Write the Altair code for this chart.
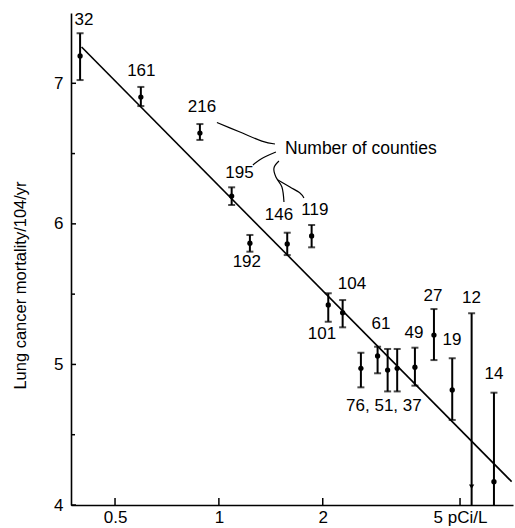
import altair as alt
import pandas as pd

# ---- data ----
counties = ["32", "161", "216", "195", "192", "146", "119", "101", "104",
            "76", "61", "51", "37", "49", "27", "19", "12", "14"]
radon = [0.396, 0.594, 0.881, 1.089, 1.23, 1.578, 1.857, 2.075, 2.284,
         2.58, 2.884, 3.084, 3.287, 3.70, 4.201, 4.746, 5.402, 6.27]
mortality = [7.194, 6.902, 6.646, 6.198, 5.862, 5.857, 5.914, 5.423, 5.368,
             4.972, 5.060, 4.960, 4.972, 4.980, 5.209, 4.818, 4.130, 4.166]
err_hi = [7.356, 6.974, 6.710, 6.260, 5.921, 5.937, 5.992, 5.506, 5.458,
          5.083, 5.126, 5.110, 5.110, 5.119, 5.394, 5.044, 5.364, 4.799]
err_lo = [7.023, 6.838, 6.597, 6.134, 5.802, 5.778, 5.833, 5.304, 5.264,
          4.837, 4.937, 4.808, 4.808, 4.849, 5.031, 4.605, 4.0, 4.0]
marker = ["circle"] * 16 + ["triangle-down", "circle"]

fit_x = [0.400, 7.056]
fit_y = [7.258, 4.166]

label_text = ["32", "161", "216", "195", "192", "146", "119", "104", "101",
              "61", "49", "27", "76, 51, 37", "19", "12", "14"]
label_x = [0.4063, 0.596, 0.893, 1.147, 1.205, 1.493, 1.898, 2.43, 1.989,
           2.948, 3.675, 4.173, 3.008, 4.736, 5.395, 6.27]
label_y = [7.447, 7.087, 6.828, 6.365, 5.732, 6.063, 6.099, 5.572, 5.220,
           5.288, 5.227, 5.487, 4.701, 5.174, 5.476, 4.932]

note_text = ["Number of counties"]
note_x = [1.554]
note_y = [6.536]

# leader curves from labels to the note
lead_group = ["a"] * 4 + ["b"] * 3 + ["c"] * 5 + ["d"] * 4
lead_x = [0.987, 1.151, 1.332, 1.454,
          1.255, 1.332, 1.463,
          1.493, 1.444, 1.463, 1.523, 1.544,
          1.483, 1.607, 1.718, 1.764]
lead_y = [6.721, 6.653, 6.589, 6.568,
          6.419, 6.465, 6.511,
          6.447, 6.397, 6.333, 6.262, 6.156,
          6.312, 6.262, 6.220, 6.184]

x_ticks = [0.5, 1, 2, 5]
x_tick_labels = ["0.5", "1", "2", "5 pCi/L"]
y_ticks = [4, 5, 6, 7]
y_minor = [4.5, 5.5, 6.5]

FONT = "Liberation Sans"
FS = 17

pts = pd.DataFrame({"n": counties, "x": radon, "y": mortality,
                    "hi": err_hi, "lo": err_lo, "shape": marker})
fit = pd.DataFrame({"x": fit_x, "y": fit_y})
labs = pd.DataFrame({"t": label_text, "x": label_x, "y": label_y})
note = pd.DataFrame({"t": note_text, "x": note_x, "y": note_y})
lead = pd.DataFrame({"g": lead_group, "x": lead_x, "y": lead_y,
                     "o": list(range(len(lead_x)))})
xt = pd.DataFrame({"v": x_ticks})
yt = pd.DataFrame({"v": y_ticks})
ym = pd.DataFrame({"v": y_minor})

label_expr = " : ".join(
    f"datum.value == {v} ? '{l}'" for v, l in zip(x_ticks, x_tick_labels)
) + " : ''"

xscale = alt.Scale(type="log", domain=[0.3727, 7.12], nice=False)
yscale = alt.Scale(domain=[4, 7.5], nice=False, zero=False)

X = alt.X("x:Q", scale=xscale,
          axis=alt.Axis(values=x_ticks, labelExpr=label_expr, ticks=False,
                        grid=False, title=None, labelPadding=4,
                        labelFlush=False, labelOverlap=False))
Y = alt.Y("y:Q", scale=yscale,
          axis=alt.Axis(values=y_ticks, format="d", ticks=False, grid=False,
                        title="Lung cancer mortality/104/yr",
                        titleFontSize=16.5, titleFontWeight="normal",
                        titleX=-51, titleY=272, titleAlign="center",
                        titleBaseline="middle", titleAngle=270,
                        labelPadding=8, labelFlush=False))

base_axes = alt.Chart(fit).mark_line(color="black", strokeWidth=1.6).encode(x=X, y=Y)

bars = alt.Chart(pts).mark_rule(color="black", strokeWidth=2).encode(
    x=alt.X("x:Q", scale=xscale), y=alt.Y("lo:Q", scale=yscale), y2="hi:Q")
caps_hi = alt.Chart(pts).mark_tick(color="black", orient="horizontal",
                                   size=7, thickness=2).encode(
    x=alt.X("x:Q", scale=xscale), y=alt.Y("hi:Q", scale=yscale))
caps_lo = alt.Chart(pts).transform_filter("datum.lo > 4.0").mark_tick(
    color="black", orient="horizontal", size=7, thickness=2).encode(
    x=alt.X("x:Q", scale=xscale), y=alt.Y("lo:Q", scale=yscale))
dots = alt.Chart(pts).mark_point(filled=True, color="black", opacity=1,
                                 size=28).encode(
    x=alt.X("x:Q", scale=xscale), y=alt.Y("y:Q", scale=yscale),
    shape=alt.Shape("shape:N", scale=None))

texts = alt.Chart(labs).mark_text(font=FONT, fontSize=FS, color="black",
                                  align="center", baseline="middle").encode(
    x=alt.X("x:Q", scale=xscale), y=alt.Y("y:Q", scale=yscale), text="t:N")
note_mark = alt.Chart(note).mark_text(font=FONT, fontSize=FS + 0.5,
                                      color="black", align="left",
                                      baseline="middle").encode(
    x=alt.X("x:Q", scale=xscale), y=alt.Y("y:Q", scale=yscale), text="t:N")
leads = alt.Chart(lead).mark_line(color="black", strokeWidth=1.2,
                                  interpolate="cardinal").encode(
    x=alt.X("x:Q", scale=xscale), y=alt.Y("y:Q", scale=yscale),
    detail="g:N", order="o:Q")

xticks = alt.Chart(xt).mark_rule(color="black", strokeWidth=1.5).encode(
    x=alt.X("v:Q", scale=xscale), y=alt.value(492), y2=alt.value(485))
yticks = alt.Chart(yt).mark_rule(color="black", strokeWidth=1.5).encode(
    y=alt.Y("v:Q", scale=yscale), x=alt.value(0), x2=alt.value(5))
yminor = alt.Chart(ym).mark_rule(color="black", strokeWidth=1.5).encode(
    y=alt.Y("v:Q", scale=yscale), x=alt.value(0), x2=alt.value(4))

chart = alt.layer(base_axes, bars, caps_hi, caps_lo, dots, texts, note_mark,
                  leads, xticks, yticks, yminor).properties(
    width=442, height=492,
    autosize=alt.AutoSizeParams(type="none"),
    padding={"left": 71, "top": 13, "right": 2, "bottom": 23},
    background="white",
).configure_view(stroke=None).configure_axis(
    domainColor="black", domainWidth=1.6, labelColor="black",
    labelFont=FONT, labelFontSize=FS, titleFont=FONT, titleColor="black",
)

chart.save("out.html", embed_options={"renderer": "svg", "actions": False})
